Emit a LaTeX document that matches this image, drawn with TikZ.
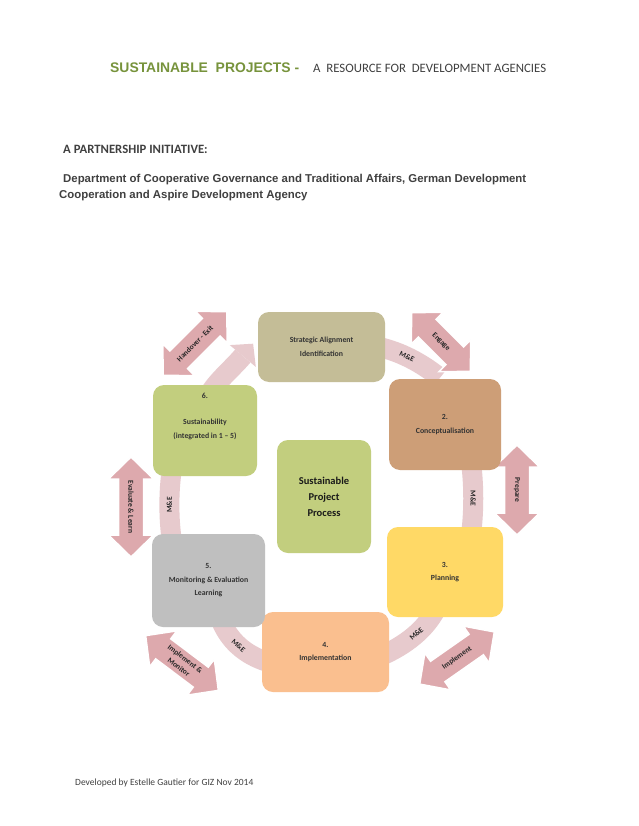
\documentclass[tikz,border=0pt]{standalone}
\usepackage{fontspec}
\setmainfont{Carlito}
\newfontfamily\arialf{Liberation Sans}
\usetikzlibrary{calc}
\pgfdeclarelayer{back}
\pgfdeclarelayer{bg}
\pgfsetlayers{back,bg,main}
\definecolor{titlegreen}{HTML}{77933C}
\definecolor{txtgray}{HTML}{404040}
\definecolor{cA}{HTML}{C4BD97}
\definecolor{cB}{HTML}{CD9E77}
\definecolor{cC}{HTML}{FFD966}
\definecolor{cD}{HTML}{FABF8F}
\definecolor{cE}{HTML}{BFBFBF}
\definecolor{cG}{HTML}{C2CE7E}
\definecolor{arrowpink}{HTML}{DDA9AD}
\definecolor{bandpink}{HTML}{E7CACD}
\newcommand\blockarrow[6]{%
  \begin{scope}[shift={(#1,#2)},rotate=#3]
    \filldraw[arrowshape] ({-#4/2},0) -- ({-#4/2+22},22.5) -- ({-#4/2+22},12.5) -- ({#4/2-22},12.5)
      -- ({#4/2-22},22.5) -- ({#4/2},0) -- ({#4/2-22},-22.5) -- ({#4/2-22},-12.5)
      -- ({-#4/2+22},-12.5) -- ({-#4/2+22},-22.5) -- cycle;
  \end{scope}
  \node[albl,rotate=#3] (#5) at (#1,#2) {#6};}
\begin{document}
\begin{tikzpicture}[x=1pt,y=-1pt,
  box/.style={rectangle, rounded corners=11pt, inner sep=0pt, align=center,
    font=\fontsize{7.8}{13.5}\selectfont\bfseries, text=black!80},
  band/.style={line width=20pt, draw=bandpink},
  arrowshape/.style={fill=arrowpink, draw=white, line width=1.5pt},
  albl/.style={font=\fontsize{7.5}{10.5}\selectfont\bfseries, text=black!85, inner sep=0pt, align=center},
  mlbl/.style={font=\fontsize{7.5}{9}\selectfont\bfseries, text=black!85, inner sep=0pt}
]
\begin{pgfonlayer}{back}
\fill[white] (0,0) rectangle (638,826);
\end{pgfonlayer}
\useasboundingbox (0,0) rectangle (638,826);

% header texts
\node[anchor=base west, inner sep=0pt, text=titlegreen, font=\arialf\fontsize{13.9}{16}\selectfont\bfseries] (title) at (110,73) {SUSTAINABLE\ \ PROJECTS -};
\node[anchor=base west, inner sep=0pt, text=txtgray, font=\fontsize{12.8}{15}\selectfont] (subtitle) at (313,73) {A\ \ RESOURCE FOR\ \ DEVELOPMENT AGENCIES};
\node[anchor=base west, inner sep=0pt, text=txtgray, font=\fontsize{12.7}{15}\selectfont\bfseries] (partner) at (63,154) {A PARTNERSHIP INITIATIVE:};
\node[anchor=base west, inner sep=0pt, text=txtgray, font=\arialf\fontsize{11.4}{14}\selectfont\bfseries] (dept1) at (63,183) {Department of Cooperative Governance and Traditional Affairs, German Development};
\node[anchor=base west, inner sep=0pt, text=txtgray, font=\arialf\fontsize{11.4}{14}\selectfont\bfseries] (dept2) at (59,199) {Cooperation and Aspire Development Agency};
\node[anchor=base west, inner sep=0pt, text=txtgray, font=\fontsize{9.5}{11}\selectfont] (footer) at (75,785) {Developed by Estelle Gautier for GIZ Nov 2014};

% boxes
\node[box, fill=cA, minimum width=127pt, minimum height=70pt] (b1) at (321.5,347) {Strategic Alignment\\Identification};
\node[box, fill=cB, minimum width=112pt, minimum height=91pt] (b2) at (445,424.5) {2.\\Conceptualisation};
\node[box, fill=cC, minimum width=116pt, minimum height=90pt] (b3) at (445,572) {3.\\Planning};
\node[box, fill=cD, minimum width=127pt, minimum height=80pt] (b4) at (325.5,652) {4.\\Implementation};
\node[box, fill=cE, minimum width=113pt, minimum height=93pt] (b5) at (208.5,580.5) {5.\\Monitoring \& Evaluation\\Learning};
\node[box, fill=cG, minimum width=104pt, minimum height=91pt] (b6) at (205,430.5) {};
\node[box] (b6t) at (205,416) {6.\\[13pt]Sustainability\\(integrated in 1 – 5)};
\node[box, fill=cG, minimum width=94pt, minimum height=113pt, font=\fontsize{10.5}{16}\selectfont\bfseries, text=black!90] (bc) at (324,496.5) {Sustainable\\Project\\Process};

\begin{pgfonlayer}{bg}
% M&E bands
\coordinate (hA) at ($(b1.west)+(-15,9)$);
\draw[band] ($(b6.north)+(4,10)$) .. controls ($(b6.north)+(11,-3)$) and ($(hA)+(-10,12)$) .. (hA);
\fill[bandpink] ($(hA)+(10.3,-12.3)$) -- ($(hA)+(13,10.9)$) -- ($(hA)+(-13,-10.9)$) -- cycle;

\draw[band] ($(b1.east)+(-6,0)$) .. controls ($(b1.east)+(15,5)$) and ($(b2.north)+(-25,-17)$) .. ($(b2.north)+(-5,-1)$)
  node[mlbl, sloped, pos=0.45] (m12) {M\&E};
\draw[band] ($(b2.south)+(26,-8)$) .. controls ($(b2.south)+(29,15)$) and ($(b3.north)+(29,-15)$) .. ($(b3.north)+(26,8)$)
  node[mlbl, sloped, pos=0.5] (m23) {M\&E};
\draw[band] ($(b3.south)+(-9,-8)$) .. controls ($(b3.south)+(-20,13)$) and ($(b4.east)+(16,-7)$) .. ($(b4.east)+(-6,3)$)
  node[mlbl, sloped, pos=0.45] (m34) {M\&E};
\draw[band] ($(b5.south)+(12,-8)$) .. controls ($(b5.south)+(20,13)$) and ($(b4.west)+(-17,3)$) .. ($(b4.west)+(6,10)$)
  node[mlbl, sloped, pos=0.5] (m45) {M\&E};
\draw[band] ($(b5.north)+(-36.5,8)$) .. controls ($(b5.north)+(-40,-15)$) and ($(b6.south)+(-36.5,15)$) .. ($(b6.south)+(-33,-8)$)
  node[mlbl, sloped, pos=0.5] (m56) {M\&E};

% double arrows
\blockarrow{195}{343.5}{45}{90}{aexit}{Handover - Exit}
\blockarrow{441}{342}{-45}{83}{aengage}{Engage}
\blockarrow{517}{490}{-90}{90}{aprep}{Prepare}
\blockarrow{457}{658}{35}{91}{aimpl}{Implement}
\blockarrow{182}{663}{-37}{91}{aimon}{Implement \&\\Monitor}
\blockarrow{131}{507}{-90}{100}{aeval}{Evaluate \& Learn}
\end{pgfonlayer}
\end{tikzpicture}
\end{document}
